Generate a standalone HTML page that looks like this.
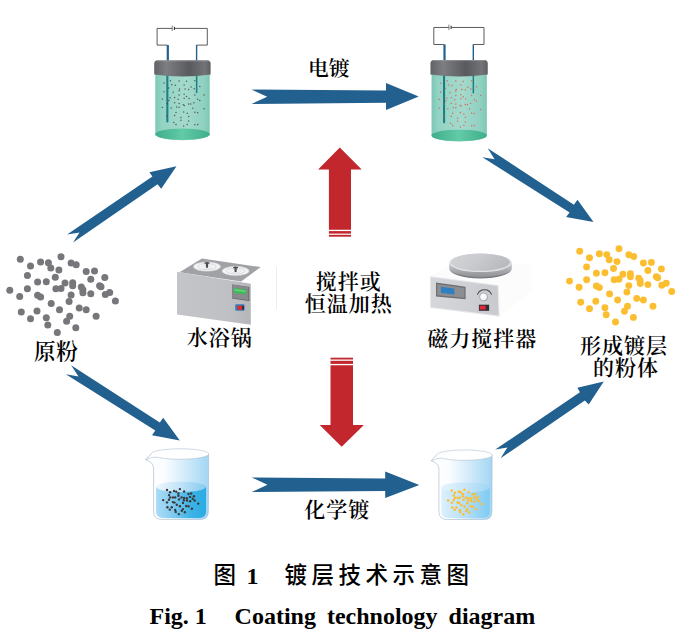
<!DOCTYPE html>
<html lang="zh">
<head>
<meta charset="utf-8">
<title>图 1 镀层技术示意图</title>
<style>
html,body{margin:0;padding:0;background:#fff;}
body{width:689px;height:641px;overflow:hidden;font-family:"Liberation Serif","Noto Serif CJK SC",serif;}
svg{display:block;}
</style>
</head>
<body>
<svg width="689" height="641" viewBox="0 0 689 641">
<defs>
  <linearGradient id="liqA" x1="0" x2="1" y1="0" y2="0">
    <stop offset="0" stop-color="#7cc7b6"/><stop offset="0.12" stop-color="#93d3c3"/><stop offset="0.55" stop-color="#a3dacc"/><stop offset="0.9" stop-color="#8fd0c0"/><stop offset="1" stop-color="#7cc7b6"/>
  </linearGradient>
  <linearGradient id="botA" x1="0" x2="1" y1="0" y2="0">
    <stop offset="0" stop-color="#3fae8c"/><stop offset="0.5" stop-color="#62caa6"/><stop offset="1" stop-color="#3fae8c"/>
  </linearGradient>
  <linearGradient id="capA" x1="0" x2="1" y1="0" y2="0">
    <stop offset="0" stop-color="#626367"/><stop offset="0.22" stop-color="#7d7e82"/><stop offset="0.62" stop-color="#595a5e"/><stop offset="0.9" stop-color="#737478"/><stop offset="1" stop-color="#5c5d61"/>
  </linearGradient>
  <linearGradient id="glA" x1="0" x2="1" y1="0" y2="0">
    <stop offset="0" stop-color="#ffffff"/><stop offset="0.3" stop-color="#fafdff"/><stop offset="1" stop-color="#a3d6f4"/>
  </linearGradient>
  <linearGradient id="lqA" x1="0" x2="1" y1="0" y2="0">
    <stop offset="0" stop-color="#a9dbf6"/><stop offset="0.2" stop-color="#95d3f3"/><stop offset="0.7" stop-color="#3db3e6"/><stop offset="1" stop-color="#29abe2"/>
  </linearGradient>
  <linearGradient id="ltA" x1="0" x2="1" y1="0" y2="0">
    <stop offset="0" stop-color="#eef7fd"/><stop offset="0.5" stop-color="#bfe2f7"/><stop offset="1" stop-color="#86cbf1"/>
  </linearGradient>
  <linearGradient id="glB" x1="0" x2="1" y1="0" y2="0">
    <stop offset="0" stop-color="#ffffff"/><stop offset="0.3" stop-color="#fafdff"/><stop offset="1" stop-color="#a3d6f4"/>
  </linearGradient>
  <linearGradient id="lqB" x1="0" x2="1" y1="0" y2="0">
    <stop offset="0" stop-color="#dcf0fc"/><stop offset="0.5" stop-color="#b5dff7"/><stop offset="1" stop-color="#7fcaf2"/>
  </linearGradient>
  <linearGradient id="ltB" x1="0" x2="1" y1="0" y2="0">
    <stop offset="0" stop-color="#e6f4fd"/><stop offset="0.6" stop-color="#c1e3f8"/><stop offset="1" stop-color="#9fd5f4"/>
  </linearGradient>

  <linearGradient id="stf" x1="0" x2="1" y1="0" y2="0">
    <stop offset="0" stop-color="#d5d7db"/><stop offset="1" stop-color="#c8cace"/>
  </linearGradient>
  <linearGradient id="plate" x1="0" x2="1" y1="0" y2="0.3">
    <stop offset="0" stop-color="#d2d4d7"/><stop offset="0.5" stop-color="#c9cbce"/><stop offset="1" stop-color="#b9bbbe"/>
  </linearGradient>
  <linearGradient id="rim" x1="0" x2="0" y1="0" y2="1">
    <stop offset="0" stop-color="#d0d2d5"/><stop offset="0.55" stop-color="#a6a8ac"/><stop offset="1" stop-color="#8b8d91"/>
  </linearGradient>
  <radialGradient id="knob" cx="0.4" cy="0.4" r="0.7">
    <stop offset="0" stop-color="#ffffff"/><stop offset="0.7" stop-color="#f1f1f2"/><stop offset="1" stop-color="#b9bbbe"/>
  </radialGradient>
  <linearGradient id="bathf" x1="0" x2="1" y1="0" y2="0">
    <stop offset="0" stop-color="#c3c5c9"/><stop offset="0.7" stop-color="#bec0c4"/><stop offset="1" stop-color="#b4b6ba"/>
  </linearGradient>
</defs>
<rect width="689" height="641" fill="#ffffff"/>

<!-- blue arrows -->
<g fill="#22608f">
  <polygon points="251.5,89.6 386.0,90.5 386.0,83.0 418.7,96.4 386.0,110.0 386.0,102.7 251.5,104.0 267.2,96.7"/>
  <polygon points="251.7,477.5 385.2,478.6 385.2,471.6 419.3,484.9 385.2,498.0 385.2,491.0 251.7,492.0 267.5,484.8"/>
  <polygon points="67.1,234.4 152.4,176.6 149.4,172.2 176.5,166.2 161.2,188.7 157.6,184.3 73.0,242.6 79.5,232.4"/>
  <polygon points="487.7,148.2 573.9,204.7 577.5,199.8 593.5,221.9 566.1,217.0 569.6,212.5 482.4,157.2 494.6,159.2"/>
  <polygon points="71.1,365.2 159.8,422.6 163.2,417.7 179.8,440.6 152.0,435.3 155.3,430.4 65.8,374.2 78.5,376.6"/>
  <polygon points="495.3,449.5 579.9,392.2 577.4,387.7 603.8,381.5 588.7,404.4 584.8,400.5 500.6,458.3 507.4,447.5"/>
</g>

<!-- red arrows -->
<g fill="#c1272d">
  <polygon points="339.8,147.6 361.7,169.6 351,169.6 351,229.8 328.9,229.8 328.9,169.6 318.1,169.6"/>
  <rect x="328.9" y="231.1" width="22.1" height="2.5"/>
  <rect x="328.9" y="234.8" width="22.1" height="1.9"/>
  <polygon points="341.7,446.8 319.7,424.9 330.5,424.9 330.5,365.2 353,365.2 353,424.9 363.9,424.9"/>
  <rect x="330.5" y="360.8" width="22.5" height="3.1"/>
  <rect x="330.5" y="357.7" width="22.5" height="1.8"/>
</g>

<!-- powders -->
<g fill="#77767b">
<circle cx="20.3" cy="259.3" r="3.5"/>
<circle cx="61.0" cy="256.7" r="3.5"/>
<circle cx="30.5" cy="266.0" r="3.5"/>
<circle cx="40.6" cy="261.9" r="3.5"/>
<circle cx="48.4" cy="262.8" r="3.5"/>
<circle cx="50.8" cy="268.0" r="3.5"/>
<circle cx="58.9" cy="270.1" r="3.5"/>
<circle cx="71.1" cy="263.0" r="3.5"/>
<circle cx="76.2" cy="264.8" r="3.5"/>
<circle cx="27.4" cy="275.6" r="3.5"/>
<circle cx="55.3" cy="277.2" r="3.5"/>
<circle cx="86.2" cy="271.5" r="3.5"/>
<circle cx="94.5" cy="270.9" r="3.5"/>
<circle cx="37.6" cy="282.1" r="3.5"/>
<circle cx="46.3" cy="281.7" r="3.5"/>
<circle cx="65.0" cy="283.1" r="3.5"/>
<circle cx="72.7" cy="282.7" r="3.5"/>
<circle cx="72.7" cy="285.7" r="3.5"/>
<circle cx="90.8" cy="279.2" r="3.5"/>
<circle cx="104.8" cy="277.6" r="3.5"/>
<circle cx="9.8" cy="290.2" r="3.5"/>
<circle cx="27.4" cy="288.8" r="3.5"/>
<circle cx="55.9" cy="288.8" r="3.5"/>
<circle cx="61.0" cy="288.4" r="3.5"/>
<circle cx="81.3" cy="287.1" r="3.5"/>
<circle cx="82.9" cy="289.8" r="3.5"/>
<circle cx="82.9" cy="292.8" r="3.5"/>
<circle cx="99.6" cy="285.7" r="3.5"/>
<circle cx="101.0" cy="286.7" r="3.5"/>
<circle cx="19.7" cy="296.5" r="3.5"/>
<circle cx="37.6" cy="295.3" r="3.5"/>
<circle cx="40.6" cy="296.9" r="3.5"/>
<circle cx="71.1" cy="294.9" r="3.5"/>
<circle cx="90.8" cy="293.8" r="3.5"/>
<circle cx="105.3" cy="294.5" r="3.5"/>
<circle cx="109.7" cy="292.4" r="3.5"/>
<circle cx="51.2" cy="303.4" r="3.5"/>
<circle cx="69.1" cy="301.6" r="3.5"/>
<circle cx="115.4" cy="301.0" r="3.5"/>
<circle cx="21.3" cy="312.1" r="3.5"/>
<circle cx="37.0" cy="311.1" r="3.5"/>
<circle cx="59.5" cy="309.7" r="3.5"/>
<circle cx="79.2" cy="308.1" r="3.5"/>
<circle cx="86.2" cy="309.7" r="3.5"/>
<circle cx="30.5" cy="318.8" r="3.5"/>
<circle cx="46.3" cy="317.8" r="3.5"/>
<circle cx="69.7" cy="316.2" r="3.5"/>
<circle cx="66.6" cy="321.3" r="3.5"/>
<circle cx="96.1" cy="316.2" r="3.5"/>
<circle cx="47.8" cy="324.9" r="3.5"/>
<circle cx="75.8" cy="327.8" r="3.5"/>
<circle cx="57.3" cy="332.5" r="3.5"/>
</g>
<g fill="#fcbe31">
<circle cx="579.7" cy="251.2" r="3.45"/>
<circle cx="619.0" cy="248.7" r="3.45"/>
<circle cx="589.5" cy="257.7" r="3.45"/>
<circle cx="599.4" cy="253.8" r="3.45"/>
<circle cx="606.8" cy="254.6" r="3.45"/>
<circle cx="609.2" cy="259.7" r="3.45"/>
<circle cx="617.0" cy="261.6" r="3.45"/>
<circle cx="628.8" cy="254.8" r="3.45"/>
<circle cx="633.7" cy="256.5" r="3.45"/>
<circle cx="586.6" cy="266.9" r="3.45"/>
<circle cx="613.5" cy="268.5" r="3.45"/>
<circle cx="643.4" cy="263.0" r="3.45"/>
<circle cx="651.4" cy="262.4" r="3.45"/>
<circle cx="596.4" cy="273.2" r="3.45"/>
<circle cx="604.9" cy="272.8" r="3.45"/>
<circle cx="622.9" cy="274.2" r="3.45"/>
<circle cx="630.4" cy="273.8" r="3.45"/>
<circle cx="630.4" cy="276.8" r="3.45"/>
<circle cx="647.9" cy="270.5" r="3.45"/>
<circle cx="661.4" cy="268.9" r="3.45"/>
<circle cx="569.5" cy="281.1" r="3.45"/>
<circle cx="586.6" cy="279.7" r="3.45"/>
<circle cx="614.1" cy="279.7" r="3.45"/>
<circle cx="619.0" cy="279.3" r="3.45"/>
<circle cx="638.7" cy="278.1" r="3.45"/>
<circle cx="640.2" cy="280.7" r="3.45"/>
<circle cx="640.2" cy="283.6" r="3.45"/>
<circle cx="656.3" cy="276.8" r="3.45"/>
<circle cx="657.7" cy="277.7" r="3.45"/>
<circle cx="579.1" cy="287.2" r="3.45"/>
<circle cx="596.4" cy="286.0" r="3.45"/>
<circle cx="599.4" cy="287.6" r="3.45"/>
<circle cx="628.8" cy="285.6" r="3.45"/>
<circle cx="647.9" cy="284.6" r="3.45"/>
<circle cx="661.8" cy="285.2" r="3.45"/>
<circle cx="666.2" cy="283.3" r="3.45"/>
<circle cx="609.6" cy="293.9" r="3.45"/>
<circle cx="626.9" cy="292.1" r="3.45"/>
<circle cx="671.7" cy="291.5" r="3.45"/>
<circle cx="580.7" cy="302.3" r="3.45"/>
<circle cx="595.8" cy="301.3" r="3.45"/>
<circle cx="617.6" cy="300.0" r="3.45"/>
<circle cx="636.7" cy="298.4" r="3.45"/>
<circle cx="643.4" cy="300.0" r="3.45"/>
<circle cx="589.5" cy="308.8" r="3.45"/>
<circle cx="604.9" cy="307.8" r="3.45"/>
<circle cx="627.5" cy="306.2" r="3.45"/>
<circle cx="624.5" cy="311.2" r="3.45"/>
<circle cx="653.0" cy="306.2" r="3.45"/>
<circle cx="606.2" cy="314.7" r="3.45"/>
<circle cx="633.4" cy="317.4" r="3.45"/>
<circle cx="615.5" cy="322.0" r="3.45"/>
</g>


<g transform="translate(0,0)">
  <!-- wires -->
  <path d="M167.2 45.1 H157.1 V28.4 H172.2 M174.6 28.4 H207.3 V45.1 H196.6" fill="none" stroke="#4a4a4a" stroke-width="0.9"/>
  <path d="M172.2 25.6 V31" stroke="#333" stroke-width="0.6"/>
  <path d="M174.4 26.8 V30" stroke="#333" stroke-width="1.1"/>
  <!-- electrodes above cap -->
  <rect x="166.7" y="45" width="2.2" height="16" fill="#22608f"/>
  <rect x="195.9" y="45" width="1.4" height="16" fill="#22608f"/>
  <!-- glass body -->
  <path d="M155.3 70 V134.3 A27.2 5.9 0 0 0 209.7 134.3 V70 Z" fill="url(#liqA)"/>
  <ellipse cx="182.5" cy="134.3" rx="27.2" ry="5.7" fill="url(#botA)"/>
  <!-- inner electrodes -->
  <rect x="166.3" y="74" width="2.1" height="48.4" rx="1" fill="#1c7f88"/>
  <rect x="195.9" y="74" width="1.5" height="19.2" rx="0.7" fill="#1c7f88"/>
  <g fill="#4a4a4a" opacity="0.85">
<circle cx="164.0" cy="83.1" r="0.75"/>
<circle cx="170.4" cy="80.7" r="0.75"/>
<circle cx="179.1" cy="81.0" r="0.75"/>
<circle cx="186.5" cy="81.3" r="0.75"/>
<circle cx="194.9" cy="80.7" r="0.75"/>
<circle cx="171.8" cy="84.8" r="0.75"/>
<circle cx="175.3" cy="85.2" r="0.75"/>
<circle cx="184.1" cy="84.9" r="0.75"/>
<circle cx="199.8" cy="86.6" r="0.75"/>
<circle cx="168.7" cy="88.0" r="0.75"/>
<circle cx="179.5" cy="89.1" r="0.75"/>
<circle cx="185.1" cy="89.1" r="0.75"/>
<circle cx="188.6" cy="89.4" r="0.75"/>
<circle cx="191.1" cy="87.0" r="0.75"/>
<circle cx="194.2" cy="88.7" r="0.75"/>
<circle cx="164.0" cy="91.8" r="0.75"/>
<circle cx="173.2" cy="92.2" r="0.75"/>
<circle cx="179.1" cy="90.8" r="0.75"/>
<circle cx="184.1" cy="94.3" r="0.75"/>
<circle cx="194.9" cy="95.0" r="0.75"/>
<circle cx="204.0" cy="95.0" r="0.75"/>
<circle cx="179.1" cy="95.0" r="0.75"/>
<circle cx="186.5" cy="96.4" r="0.75"/>
<circle cx="170.1" cy="97.8" r="0.75"/>
<circle cx="174.6" cy="97.4" r="0.75"/>
<circle cx="178.1" cy="99.2" r="0.75"/>
<circle cx="184.1" cy="98.2" r="0.75"/>
<circle cx="189.0" cy="98.5" r="0.75"/>
<circle cx="197.7" cy="99.2" r="0.75"/>
<circle cx="162.4" cy="98.9" r="0.75"/>
<circle cx="169.0" cy="100.6" r="0.75"/>
<circle cx="199.8" cy="100.6" r="0.75"/>
<circle cx="174.6" cy="102.7" r="0.75"/>
<circle cx="179.1" cy="103.4" r="0.75"/>
<circle cx="183.4" cy="104.8" r="0.75"/>
<circle cx="188.6" cy="103.9" r="0.75"/>
<circle cx="190.7" cy="103.9" r="0.75"/>
<circle cx="193.9" cy="102.7" r="0.75"/>
<circle cx="167.1" cy="103.4" r="0.75"/>
<circle cx="171.1" cy="108.1" r="0.75"/>
<circle cx="176.7" cy="106.9" r="0.75"/>
<circle cx="179.1" cy="107.2" r="0.75"/>
<circle cx="184.4" cy="105.5" r="0.75"/>
<circle cx="162.4" cy="107.6" r="0.75"/>
<circle cx="192.8" cy="108.3" r="0.75"/>
<circle cx="204.0" cy="108.8" r="0.75"/>
<circle cx="176.0" cy="112.6" r="0.75"/>
<circle cx="183.7" cy="111.9" r="0.75"/>
<circle cx="187.2" cy="113.3" r="0.75"/>
<circle cx="194.9" cy="112.3" r="0.75"/>
<circle cx="197.7" cy="112.8" r="0.75"/>
<circle cx="174.6" cy="115.4" r="0.75"/>
<circle cx="180.9" cy="117.5" r="0.75"/>
<circle cx="188.6" cy="116.5" r="0.75"/>
<circle cx="166.8" cy="116.1" r="0.75"/>
<circle cx="180.9" cy="120.3" r="0.75"/>
<circle cx="188.6" cy="121.0" r="0.75"/>
<circle cx="173.9" cy="122.4" r="0.75"/>
<circle cx="176.0" cy="124.5" r="0.75"/>
<circle cx="183.7" cy="125.9" r="0.75"/>
<circle cx="187.2" cy="124.5" r="0.75"/>
<circle cx="194.9" cy="124.8" r="0.75"/>
<circle cx="197.7" cy="124.5" r="0.75"/>
  </g>
  <!-- cap -->
  <path d="M154.2 63.8 Q154.2 60.2 157.8 60.2 H207 Q210.6 60.2 210.6 63.8 V74.4 Q182.4 78.6 154.2 74.4 Z" fill="url(#capA)"/>
  <path d="M157.5 60.9 H207.3" stroke="#a9aaae" stroke-width="0.7" opacity="0.8"/>
</g>

<g transform="translate(459.0,60) scale(1,1.02) translate(-182.3,-60.3)">
  <!-- wires -->
  <path d="M167.2 45.1 H157.1 V28.4 H172.2 M174.6 28.4 H207.3 V45.1 H196.6" fill="none" stroke="#4a4a4a" stroke-width="0.9"/>
  <path d="M172.2 25.6 V31" stroke="#333" stroke-width="0.6"/>
  <path d="M174.4 26.8 V30" stroke="#333" stroke-width="1.1"/>
  <!-- electrodes above cap -->
  <rect x="166.7" y="45" width="2.2" height="16" fill="#22608f"/>
  <rect x="195.9" y="45" width="1.4" height="16" fill="#22608f"/>
  <!-- glass body -->
  <path d="M154.85000000000002 70 V134.3 A27.65 5.9 0 0 0 210.14999999999998 134.3 V70 Z" fill="url(#liqA)"/>
  <ellipse cx="182.5" cy="134.3" rx="27.65" ry="5.7" fill="url(#botA)"/>
  <!-- inner electrodes -->
  <rect x="166.3" y="74" width="2.1" height="48.4" rx="1" fill="#1c7f88"/>
  <rect x="195.9" y="74" width="1.5" height="19.2" rx="0.7" fill="#1c7f88"/>
  <g fill="#e4574a" opacity="0.8">
<circle cx="164.0" cy="83.1" r="0.75"/>
<circle cx="170.4" cy="80.7" r="0.75"/>
<circle cx="179.1" cy="81.0" r="0.75"/>
<circle cx="186.5" cy="81.3" r="0.75"/>
<circle cx="194.9" cy="80.7" r="0.75"/>
<circle cx="171.8" cy="84.8" r="0.75"/>
<circle cx="175.3" cy="85.2" r="0.75"/>
<circle cx="184.1" cy="84.9" r="0.75"/>
<circle cx="199.8" cy="86.6" r="0.75"/>
<circle cx="168.7" cy="88.0" r="0.75"/>
<circle cx="179.5" cy="89.1" r="0.75"/>
<circle cx="185.1" cy="89.1" r="0.75"/>
<circle cx="188.6" cy="89.4" r="0.75"/>
<circle cx="191.1" cy="87.0" r="0.75"/>
<circle cx="194.2" cy="88.7" r="0.75"/>
<circle cx="164.0" cy="91.8" r="0.75"/>
<circle cx="173.2" cy="92.2" r="0.75"/>
<circle cx="179.1" cy="90.8" r="0.75"/>
<circle cx="184.1" cy="94.3" r="0.75"/>
<circle cx="194.9" cy="95.0" r="0.75"/>
<circle cx="204.0" cy="95.0" r="0.75"/>
<circle cx="179.1" cy="95.0" r="0.75"/>
<circle cx="186.5" cy="96.4" r="0.75"/>
<circle cx="170.1" cy="97.8" r="0.75"/>
<circle cx="174.6" cy="97.4" r="0.75"/>
<circle cx="178.1" cy="99.2" r="0.75"/>
<circle cx="184.1" cy="98.2" r="0.75"/>
<circle cx="189.0" cy="98.5" r="0.75"/>
<circle cx="197.7" cy="99.2" r="0.75"/>
<circle cx="162.4" cy="98.9" r="0.75"/>
<circle cx="169.0" cy="100.6" r="0.75"/>
<circle cx="199.8" cy="100.6" r="0.75"/>
<circle cx="174.6" cy="102.7" r="0.75"/>
<circle cx="179.1" cy="103.4" r="0.75"/>
<circle cx="183.4" cy="104.8" r="0.75"/>
<circle cx="188.6" cy="103.9" r="0.75"/>
<circle cx="190.7" cy="103.9" r="0.75"/>
<circle cx="193.9" cy="102.7" r="0.75"/>
<circle cx="167.1" cy="103.4" r="0.75"/>
<circle cx="171.1" cy="108.1" r="0.75"/>
<circle cx="176.7" cy="106.9" r="0.75"/>
<circle cx="179.1" cy="107.2" r="0.75"/>
<circle cx="184.4" cy="105.5" r="0.75"/>
<circle cx="162.4" cy="107.6" r="0.75"/>
<circle cx="192.8" cy="108.3" r="0.75"/>
<circle cx="204.0" cy="108.8" r="0.75"/>
<circle cx="176.0" cy="112.6" r="0.75"/>
<circle cx="183.7" cy="111.9" r="0.75"/>
<circle cx="187.2" cy="113.3" r="0.75"/>
<circle cx="194.9" cy="112.3" r="0.75"/>
<circle cx="197.7" cy="112.8" r="0.75"/>
<circle cx="174.6" cy="115.4" r="0.75"/>
<circle cx="180.9" cy="117.5" r="0.75"/>
<circle cx="188.6" cy="116.5" r="0.75"/>
<circle cx="166.8" cy="116.1" r="0.75"/>
<circle cx="180.9" cy="120.3" r="0.75"/>
<circle cx="188.6" cy="121.0" r="0.75"/>
<circle cx="173.9" cy="122.4" r="0.75"/>
<circle cx="176.0" cy="124.5" r="0.75"/>
<circle cx="183.7" cy="125.9" r="0.75"/>
<circle cx="187.2" cy="124.5" r="0.75"/>
<circle cx="194.9" cy="124.8" r="0.75"/>
<circle cx="197.7" cy="124.5" r="0.75"/>
  </g>
  <!-- cap -->
  <path d="M153.75 63.8 Q153.75 60.2 157.35000000000002 60.2 H207.45 Q211.04999999999998 60.2 211.04999999999998 63.8 V74.4 Q182.4 78.6 153.75 74.4 Z" fill="url(#capA)"/>
  <path d="M157.05 60.9 H207.75" stroke="#a9aaae" stroke-width="0.7" opacity="0.8"/>
</g>


<g transform="translate(0,0)">
  <!-- glass -->
  <path d="M145.7 459.8 L151.5 453.6 L208.6 453.9 L208.4 511.4 Q208.4 519.4 200.4 519.4 L161.6 519.4 Q153.6 519.4 153.6 511.4 L153.6 467.5 Q152.6 461.6 145.7 459.8 Z" fill="url(#glA)" stroke="#a9b9cd" stroke-width="0.65"/>
  <!-- liquid -->
  <path d="M156.1 486.8 L206.1 486.8 L206.1 511 Q206.1 517.9 199.2 517.9 L163 517.9 Q156.1 517.9 156.1 511 Z" fill="url(#lqA)"/>
  <ellipse cx="181.1" cy="486.8" rx="25" ry="5.1" fill="url(#ltA)"/>
  <g fill="#3a3a3a">
<circle cx="167.0" cy="489.9" r="1.2"/>
<circle cx="179.9" cy="489.1" r="1.2"/>
<circle cx="170.1" cy="492.3" r="1.2"/>
<circle cx="174.0" cy="490.9" r="1.2"/>
<circle cx="176.2" cy="491.6" r="1.2"/>
<circle cx="184.1" cy="491.5" r="1.2"/>
<circle cx="178.4" cy="493.5" r="1.2"/>
<circle cx="188.5" cy="494.0" r="1.2"/>
<circle cx="191.2" cy="493.5" r="1.2"/>
<circle cx="169.0" cy="495.1" r="1.2"/>
<circle cx="178.4" cy="495.8" r="1.2"/>
<circle cx="170.1" cy="497.4" r="1.2"/>
<circle cx="172.9" cy="497.4" r="1.2"/>
<circle cx="175.2" cy="497.4" r="1.2"/>
<circle cx="181.5" cy="497.4" r="1.2"/>
<circle cx="184.1" cy="497.9" r="1.2"/>
<circle cx="186.9" cy="498.2" r="1.2"/>
<circle cx="190.1" cy="496.9" r="1.2"/>
<circle cx="194.0" cy="496.3" r="1.2"/>
<circle cx="163.2" cy="500.1" r="1.2"/>
<circle cx="169.0" cy="499.7" r="1.2"/>
<circle cx="179.1" cy="499.4" r="1.2"/>
<circle cx="183.8" cy="500.2" r="1.2"/>
<circle cx="186.9" cy="500.5" r="1.2"/>
<circle cx="190.1" cy="501.3" r="1.2"/>
<circle cx="192.7" cy="498.7" r="1.2"/>
<circle cx="194.7" cy="500.5" r="1.2"/>
<circle cx="167.0" cy="502.4" r="1.2"/>
<circle cx="172.9" cy="502.1" r="1.2"/>
<circle cx="174.5" cy="502.6" r="1.2"/>
<circle cx="183.0" cy="502.9" r="1.2"/>
<circle cx="198.2" cy="503.6" r="1.2"/>
<circle cx="176.8" cy="504.7" r="1.2"/>
<circle cx="179.9" cy="506.3" r="1.2"/>
<circle cx="186.2" cy="506.0" r="1.2"/>
<circle cx="188.5" cy="506.3" r="1.2"/>
<circle cx="167.4" cy="507.2" r="1.2"/>
<circle cx="171.8" cy="507.2" r="1.2"/>
<circle cx="169.8" cy="509.6" r="1.2"/>
<circle cx="175.2" cy="509.9" r="1.2"/>
<circle cx="183.0" cy="509.1" r="1.2"/>
<circle cx="181.8" cy="510.7" r="1.2"/>
<circle cx="191.9" cy="508.8" r="1.2"/>
<circle cx="175.7" cy="511.9" r="1.2"/>
<circle cx="184.9" cy="512.2" r="1.2"/>
<circle cx="178.8" cy="514.1" r="1.2"/>
  </g>
  <!-- rim -->
  <path d="M145.7 459.8 Q149 456.4 151.6 453.2 A28.8 5.2 0 0 1 208.9 454 A28.8 5.3 0 0 1 157 457.1 Q152 456.6 145.7 459.8 Z" fill="#ffffff" stroke="#a9b9cd" stroke-width="0.55"/>
</g>

<g transform="translate(465.4,519.5) scale(0.967,0.984) translate(-181,-519.4)">
  <!-- glass -->
  <path d="M145.7 459.8 L151.5 453.6 L208.6 453.9 L208.4 511.4 Q208.4 519.4 200.4 519.4 L161.6 519.4 Q153.6 519.4 153.6 511.4 L153.6 467.5 Q152.6 461.6 145.7 459.8 Z" fill="url(#glB)" stroke="#a9b9cd" stroke-width="0.65"/>
  <!-- liquid -->
  <path d="M156.1 486.8 L206.1 486.8 L206.1 511 Q206.1 517.9 199.2 517.9 L163 517.9 Q156.1 517.9 156.1 511 Z" fill="url(#lqB)"/>
  <ellipse cx="181.1" cy="486.8" rx="25" ry="5.1" fill="url(#ltB)"/>
  <g fill="#fcbe31">
<circle cx="167.0" cy="489.9" r="1.3"/>
<circle cx="179.9" cy="489.1" r="1.3"/>
<circle cx="170.1" cy="492.3" r="1.3"/>
<circle cx="174.0" cy="490.9" r="1.3"/>
<circle cx="176.2" cy="491.6" r="1.3"/>
<circle cx="184.1" cy="491.5" r="1.3"/>
<circle cx="178.4" cy="493.5" r="1.3"/>
<circle cx="188.5" cy="494.0" r="1.3"/>
<circle cx="191.2" cy="493.5" r="1.3"/>
<circle cx="169.0" cy="495.1" r="1.3"/>
<circle cx="178.4" cy="495.8" r="1.3"/>
<circle cx="170.1" cy="497.4" r="1.3"/>
<circle cx="172.9" cy="497.4" r="1.3"/>
<circle cx="175.2" cy="497.4" r="1.3"/>
<circle cx="181.5" cy="497.4" r="1.3"/>
<circle cx="184.1" cy="497.9" r="1.3"/>
<circle cx="186.9" cy="498.2" r="1.3"/>
<circle cx="190.1" cy="496.9" r="1.3"/>
<circle cx="194.0" cy="496.3" r="1.3"/>
<circle cx="163.2" cy="500.1" r="1.3"/>
<circle cx="169.0" cy="499.7" r="1.3"/>
<circle cx="179.1" cy="499.4" r="1.3"/>
<circle cx="183.8" cy="500.2" r="1.3"/>
<circle cx="186.9" cy="500.5" r="1.3"/>
<circle cx="190.1" cy="501.3" r="1.3"/>
<circle cx="192.7" cy="498.7" r="1.3"/>
<circle cx="194.7" cy="500.5" r="1.3"/>
<circle cx="167.0" cy="502.4" r="1.3"/>
<circle cx="172.9" cy="502.1" r="1.3"/>
<circle cx="174.5" cy="502.6" r="1.3"/>
<circle cx="183.0" cy="502.9" r="1.3"/>
<circle cx="198.2" cy="503.6" r="1.3"/>
<circle cx="176.8" cy="504.7" r="1.3"/>
<circle cx="179.9" cy="506.3" r="1.3"/>
<circle cx="186.2" cy="506.0" r="1.3"/>
<circle cx="188.5" cy="506.3" r="1.3"/>
<circle cx="167.4" cy="507.2" r="1.3"/>
<circle cx="171.8" cy="507.2" r="1.3"/>
<circle cx="169.8" cy="509.6" r="1.3"/>
<circle cx="175.2" cy="509.9" r="1.3"/>
<circle cx="183.0" cy="509.1" r="1.3"/>
<circle cx="181.8" cy="510.7" r="1.3"/>
<circle cx="191.9" cy="508.8" r="1.3"/>
<circle cx="175.7" cy="511.9" r="1.3"/>
<circle cx="184.9" cy="512.2" r="1.3"/>
<circle cx="178.8" cy="514.1" r="1.3"/>
  </g>
  <!-- rim -->
  <path d="M145.7 459.8 Q149 456.4 151.6 453.2 A28.8 5.2 0 0 1 208.9 454 A28.8 5.3 0 0 1 157 457.1 Q152 456.6 145.7 459.8 Z" fill="#ffffff" stroke="#a9b9cd" stroke-width="0.55"/>
</g>

<!-- water bath -->
<g id="bath">
  <polygon points="179.5,272.3 201.9,258.4 260.7,267.1 241.1,281.4" fill="#a0a2a6"/>
  <polygon points="177,271.8 250.8,283.7 250.8,324.8 177,314.4" fill="url(#bathf)"/>
  <ellipse cx="207" cy="266.6" rx="13.6" ry="4.7" fill="#f4f4f5" stroke="#c4c5c8" stroke-width="0.5"/>
  <ellipse cx="207" cy="266.6" rx="9.2" ry="3.1" fill="none" stroke="#d0d1d4" stroke-width="0.7"/>
  <ellipse cx="207" cy="266.6" rx="5.2" ry="1.8" fill="none" stroke="#dcdde0" stroke-width="0.6"/>
  <ellipse cx="235.6" cy="271" rx="13.6" ry="4.7" fill="#f4f4f5" stroke="#c4c5c8" stroke-width="0.5"/>
  <ellipse cx="235.6" cy="271" rx="9.2" ry="3.1" fill="none" stroke="#d0d1d4" stroke-width="0.7"/>
  <ellipse cx="235.6" cy="271" rx="5.2" ry="1.8" fill="none" stroke="#dcdde0" stroke-width="0.6"/>
  <path d="M204.6 262.6 q2.4 -1 4.8 0 v1.2 h-1.3 v3.6 q-1.1 0.7 -2.2 0 v-3.6 h-1.3z" fill="#4b4c50"/>
  <path d="M233.2 267 q2.4 -1 4.8 0 v1.2 h-1.3 v3.6 q-1.1 0.7 -2.2 0 v-3.6 h-1.3z" fill="#4b4c50"/>
  <polygon points="232.1,284.5 249.3,287 249.3,301 232.1,298.6" fill="#55575b"/>
  <polygon points="232.1,284.5 248.6,286.9 248.6,300.2 232.1,298" fill="#87898d"/>
  <polygon points="233.9,288 246.2,289.6 246.2,294.4 233.9,292.8" fill="#3dbb58"/>
  <polygon points="234.6,289.3 245.5,290.7 245.5,291.9 234.6,290.5" fill="#6fd884"/>
  <rect x="235.2" y="304.2" width="9.3" height="6.6" rx="1.2" fill="#2f7fc1"/>
  <rect x="237.3" y="305.6" width="5" height="4.2" fill="#e02a2a"/>
  <rect x="242.3" y="305.6" width="1.5" height="4.2" fill="#222"/>
</g>

<rect x="276.1" y="266.7" width="0.9" height="42.6" fill="#e6ecf4"/>
<!-- magnetic stirrer -->
<g id="stir">
  <polygon points="430,276 498.7,285.1 531.5,265.5 465,257" fill="#fcfcfd"/>
  <polygon points="498.7,285.1 531.5,265.5 531.5,291 499.8,316.8" fill="#fcfcfd"/>
  <polygon points="429.9,276 498.7,285.1 499.8,316.8 429.9,308" fill="#e9eaec"/>
  <polygon points="431,277.3 497.6,286.1 498.6,315.5 431,306.9" fill="url(#stf)"/>
  <!-- plate -->
  <path d="M449.2 262.8 V268.4 A31.3 9.4 0 0 0 511.8 268.4 V262.8 Z" fill="url(#rim)"/>
  <path d="M449.2 268.4 A31.3 10 0 0 0 511.8 268.4 A31.3 8.8 0 0 1 449.2 268.4 Z" fill="#73757a"/>
  <ellipse cx="480.5" cy="262.8" rx="31.3" ry="9.3" fill="#dfe1e3"/>
  <ellipse cx="480.4" cy="262.2" rx="29.6" ry="8.6" fill="url(#plate)"/>
  <!-- display -->
  <polygon points="436,282.4 465.6,286.8 465.6,299.3 436,296.4" fill="#6d6f73"/>
  <polygon points="437.2,284 464.4,288 464.4,297.8 437.2,295.2" fill="#8c8e92"/>
  <polygon points="440.9,286.8 454.3,288.5 454.3,294.6 440.9,292.9" fill="#2f7fc1"/>
  <!-- knob -->
  <path d="M477.4 294.6 A7.6 7.6 0 0 1 491.6 294.6" fill="none" stroke="#45474b" stroke-width="1.1"/>
  <circle cx="483.6" cy="296.9" r="4" fill="url(#knob)" stroke="#8a8c90" stroke-width="0.6"/>
  <rect x="478.9" y="304.7" width="10.2" height="6.1" fill="#2d2e31"/>
  <rect x="479.7" y="305.7" width="6" height="3.9" fill="#e0283a"/>
</g>

<!-- labels -->
<g font-family="'Liberation Serif','Noto Serif CJK SC',serif" font-size="21" letter-spacing="1" font-weight="600" fill="#000" text-anchor="middle">
  <text x="328.8" y="76.2" font-size="20.8" letter-spacing="0">电镀</text>
  <text x="56.3" y="358.8" font-size="21.6" letter-spacing="0.8">原粉</text>
  <text x="219.8" y="345.2">水浴锅</text>
  <text x="348.8" y="288.8">搅拌或</text>
  <text x="348.8" y="311.3">恒温加热</text>
  <text x="482.2" y="345.8">磁力搅拌器</text>
  <text x="624.1" y="352.8">形成镀层</text>
  <text x="626" y="374.8">的粉体</text>
  <text x="337.3" y="517">化学镀</text>
</g>
<g fill="#000" text-anchor="start">
  <text x="213.6" y="582.8" font-family="'Liberation Sans','Noto Sans CJK SC',sans-serif" font-size="22.5" font-weight="500">图</text>
  <text x="246.5" y="583.5" font-family="'Liberation Serif',serif" font-size="24" font-weight="bold">1</text>
  <text x="284.5" y="582.8" font-family="'Liberation Sans','Noto Sans CJK SC',sans-serif" font-size="22.5" font-weight="500" letter-spacing="4.5">镀层技术示意图</text>
  <text x="149.5" y="624.3" font-family="'Liberation Serif',serif" font-size="24" font-weight="bold">Fig. 1</text>
  <text x="234.6" y="624.3" font-family="'Liberation Serif',serif" font-size="24" font-weight="bold" word-spacing="5">Coating technology diagram</text>
</g>
</svg>
</body>
</html>
